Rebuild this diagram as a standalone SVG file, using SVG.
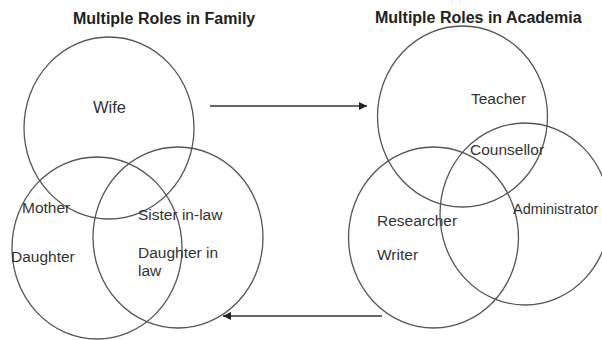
<svg xmlns="http://www.w3.org/2000/svg" width="602" height="340" viewBox="0 0 602 340">
<style>
.c{fill:none;stroke:#555;stroke-width:1.3}
.t{font-family:"Liberation Sans",Arial,sans-serif;font-size:15.5px;fill:#333}
.h{font-family:"Liberation Sans",Arial,sans-serif;font-size:16px;font-weight:bold;fill:#222}
.a{stroke:#333;stroke-width:1.6;fill:none}
</style>
<defs>
<marker id="ah" viewBox="0 0 10 10" refX="10" refY="5" markerWidth="10" markerHeight="8" markerUnits="userSpaceOnUse" orient="auto">
<path d="M0,0 L10,5 L0,10 z" fill="#222"/>
</marker>
</defs>
<rect width="602" height="340" fill="#fff"/>
<text class="h" x="73" y="24">Multiple Roles in Family</text>
<text class="h" x="375" y="23">Multiple Roles in Academia</text>
<g id="wife"><ellipse class="c" cx="109" cy="128" rx="85" ry="91"/><text class="t" x="93" y="112.5" style="font-size:16.5px">Wife</text></g>
<g id="mother"><ellipse class="c" cx="97" cy="248" rx="85" ry="91"/><text class="t" x="22" y="213">Mother</text><text class="t" x="11" y="262">Daughter</text></g>
<g id="sister"><ellipse class="c" cx="178" cy="237.5" rx="85" ry="90.5"/><text class="t" x="138" y="220">Sister in-law</text><text class="t" x="138" y="258">Daughter in</text><text class="t" x="138" y="276">law</text></g>
<g id="teacher"><ellipse class="c" cx="462.5" cy="116.5" rx="85" ry="90.5"/><text class="t" x="471" y="104">Teacher</text><text class="t" x="470" y="155">Counsellor</text></g>
<g id="researcher"><ellipse class="c" cx="433.5" cy="237.5" rx="85" ry="90.5"/><text class="t" x="377" y="226">Researcher</text><text class="t" x="377" y="260">Writer</text></g>
<g id="admin"><ellipse class="c" cx="525" cy="214" rx="85" ry="91"/><text class="t" x="513" y="214" style="font-size:14.5px">Administrator</text></g>
<g id="connectors">
<line class="a" x1="210" y1="106" x2="367" y2="106" marker-end="url(#ah)"/>
<line class="a" x1="382" y1="316" x2="223" y2="316" marker-end="url(#ah)"/>
</g>
</svg>
